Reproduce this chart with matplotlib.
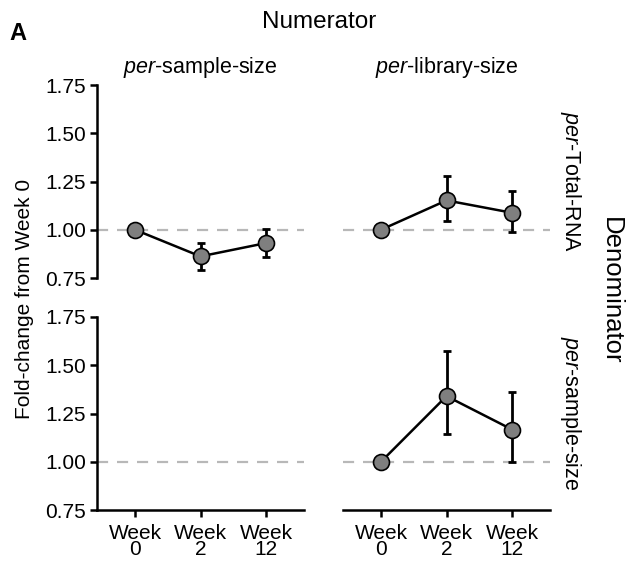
import matplotlib
matplotlib.use("Agg")
import matplotlib.pyplot as plt
import numpy as np

plt.rcParams["font.family"] = ["Liberation Sans", "DejaVu Sans"]
plt.rcParams["mathtext.fontset"] = "custom"
plt.rcParams["mathtext.rm"] = "Liberation Sans"
plt.rcParams["mathtext.it"] = "Liberation Sans:italic"

# Categories
weeks = ["Week\n0", "Week\n2", "Week\n12"]
numerators = [r"$\mathit{per}$-sample-size", r"$\mathit{per}$-library-size"]
denominators = [r"$\mathit{per}$-Total-RNA", r"$\mathit{per}$-sample-size"]

# Fold-change means and error-bar limits (row = denominator, col = numerator)
total_rna_sample_mean = [1.00, 0.862, 0.931]
total_rna_sample_lo = [1.00, 0.793, 0.860]
total_rna_sample_hi = [1.00, 0.931, 1.004]

total_rna_library_mean = [1.00, 1.152, 1.088]
total_rna_library_lo = [1.00, 1.045, 0.988]
total_rna_library_hi = [1.00, 1.276, 1.200]

sample_sample_mean = []
sample_sample_lo = []
sample_sample_hi = []

sample_library_mean = [1.00, 1.340, 1.167]
sample_library_lo = [1.00, 1.145, 0.998]
sample_library_hi = [1.00, 1.573, 1.363]

panels = [
    [(total_rna_sample_mean, total_rna_sample_lo, total_rna_sample_hi),
     (total_rna_library_mean, total_rna_library_lo, total_rna_library_hi)],
    [(sample_sample_mean, sample_sample_lo, sample_sample_hi),
     (sample_library_mean, sample_library_lo, sample_library_hi)],
]

yticks = [0.75, 1.00, 1.25, 1.50, 1.75]

W, H = 628, 561
fig = plt.figure(figsize=(W / 100, H / 100), dpi=100)

col_x = [(97, 304), (343, 550)]
row_y = [(85, 278), (317, 510)]

for r in range(2):
    for c in range(2):
        x0, x1 = col_x[c]
        y0, y1 = row_y[r]
        ax = fig.add_axes([x0 / W, 1 - y1 / H, (x1 - x0) / W, (y1 - y0) / H])
        ax.set_xlim(-0.58, 2.58)
        ax.set_ylim(0.75, 1.75)
        ax.axhline(1.0, color="#b8b8b8", lw=1.6, dashes=(5, 4), zorder=1)

        mean, lo, hi = panels[r][c]
        if mean:
            x = np.arange(len(mean))
            m = np.array(mean)
            yerr = np.vstack([m - np.array(lo), np.array(hi) - m])
            ax.errorbar(x, m, yerr=yerr, fmt="none", ecolor="black",
                        elinewidth=2.0, capsize=3, capthick=2.0, zorder=2)
            ax.plot(x, m, color="black", lw=1.8, marker="o", ms=11.5,
                    mfc="#7f7f7f", mec="black", mew=1.2, zorder=3)

        for s in ["top", "right"]:
            ax.spines[s].set_visible(False)
        for s in ["left", "bottom"]:
            ax.spines[s].set_linewidth(1.8)

        ax.set_xticks(range(len(weeks)))
        ax.set_xticklabels(weeks, fontsize=15, linespacing=0.8)
        ax.set_yticks(yticks)
        ax.set_yticklabels([f"{v:.2f}" for v in yticks], fontsize=15)
        ax.tick_params(length=5, width=1.8, pad=3)
        ax.tick_params(axis="x", pad=5)

        if r == 0:
            ax.spines["bottom"].set_visible(False)
            ax.tick_params(axis="x", bottom=False, labelbottom=False)
        if c == 1:
            ax.spines["left"].set_visible(False)
            ax.tick_params(axis="y", left=False, labelleft=False)

# Column and row facet labels
for c in range(2):
    xc = (col_x[c][0] + col_x[c][1]) / 2 / W
    fig.text(xc, 1 - 68 / H, numerators[c], ha="center", va="center", fontsize=15.5)
for r in range(2):
    yc = 1 - (row_y[r][0] + row_y[r][1]) / 2 / H
    fig.text(570 / W, yc, denominators[r], ha="center", va="center",
             rotation=-90, fontsize=15.5)

fig.text(319 / W, 1 - 22 / H, "Numerator", ha="center", va="center", fontsize=17.5)
fig.text(611 / W, 1 - 291 / H, "Denominator", ha="center", va="center",
         rotation=-90, fontsize=18.5)
fig.text(25 / W, 1 - 299 / H, "Fold-change from Week 0", ha="center", va="center",
         rotation=90, fontsize=15)
fig.text(9 / W, 1 - 40 / H, "A", ha="left", va="baseline", fontsize=17, fontweight="bold")

fig.savefig("out.png", dpi=100)
